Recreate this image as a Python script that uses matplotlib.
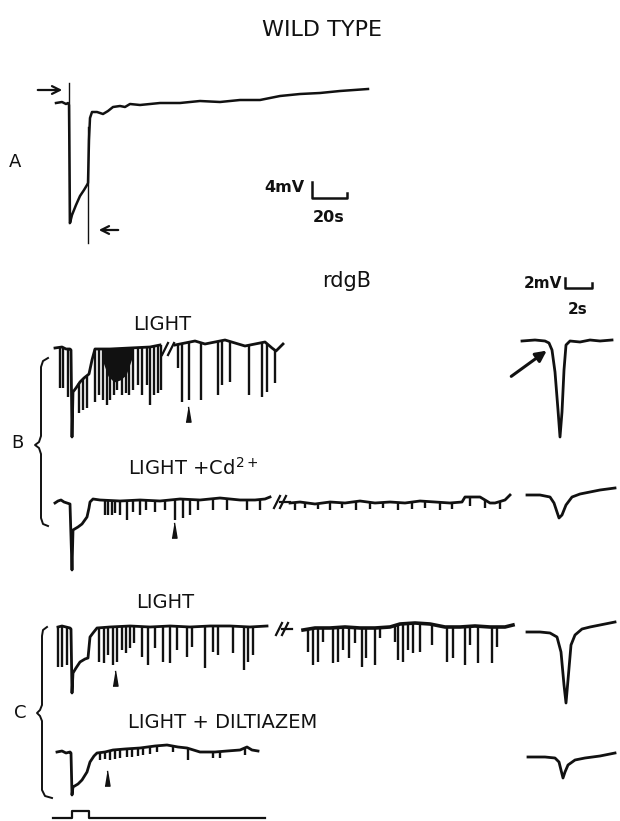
import numpy as np
import matplotlib
matplotlib.use("Agg")
import matplotlib.pyplot as plt

INK = "#111111"

# ---- panel A (wild type) trace, pixel coords of the original sheet ----
a_x = [56, 62, 66, 68, 69, 70, 72, 76, 80, 84, 87, 88, 89, 90, 92, 97, 103, 108, 113,
       120, 125, 130, 140, 150, 160, 180, 200, 220, 240, 260, 270, 280, 300, 320, 340, 368]
a_y = [103, 102, 104, 103, 105, 223, 215, 205, 196, 190, 185, 183, 140, 118, 112, 112, 114, 111, 107,
       106, 107, 104, 105, 104, 103, 103, 101, 102, 100, 100, 98, 96, 94, 93, 91, 89]

# ---- B: LIGHT ----
bl_x = [55, 62, 66, 70, 71, 72, 73, 76, 80, 84, 89, 92, 95, 110, 130, 150, 160]
bl_y = [348, 347, 349, 349, 350, 437, 392, 388, 382, 378, 374, 360, 349, 349, 348, 347, 345]
bl_spk_x = [60, 63, 68, 79, 83, 87, 95, 99, 103, 107, 110, 114, 117, 122, 126, 129,
            133, 138, 142, 147, 150, 154, 158, 161]
bl_spk_y = [388, 388, 397, 413, 410, 408, 402, 395, 400, 405, 400, 395, 390, 395, 393, 395,
            390, 385, 395, 385, 405, 395, 393, 390]
burst_x = [103, 108, 114, 120, 126, 132]
burst_lo = [362, 376, 382, 380, 375, 358]
br_x = [175, 185, 195, 205, 215, 225, 235, 245, 255, 265, 272, 276, 280, 283]
br_y = [345, 343, 341, 344, 342, 340, 343, 346, 344, 342, 348, 351, 347, 344]
br_spk_x = [178, 182, 189, 201, 218, 222, 230, 249, 262, 267, 275]
br_spk_y = [368, 402, 400, 400, 395, 385, 382, 395, 397, 392, 383]

# ---- B: LIGHT + Cd ----
cl_x = [55, 58, 61, 64, 67, 70, 72, 73, 78, 82, 87, 89, 90, 93, 100, 120, 140, 160,
        180, 200, 220, 240, 255, 265, 270]
cl_y = [503, 501, 500, 502, 503, 504, 570, 530, 527, 524, 517, 508, 502, 499, 500, 501, 500, 501,
        499, 500, 498, 500, 500, 499, 497]
cl_spk_x = [105, 108, 112, 115, 120, 127, 133, 140, 146, 155, 165, 175, 183, 190, 198,
            213, 227, 247, 260]
cl_spk_y = [515, 515, 515, 513, 515, 520, 512, 515, 510, 512, 510, 520, 518, 515, 510,
            510, 510, 510, 510]
cr_x = [290, 300, 315, 330, 345, 360, 375, 390, 405, 420, 435, 450, 462, 465, 480,
        490, 495, 505, 510]
cr_y = [503, 502, 504, 502, 503, 501, 503, 502, 503, 501, 502, 503, 502, 497, 497,
        503, 503, 500, 495]
cr_spk_x = [295, 305, 318, 330, 342, 356, 370, 383, 398, 412, 425, 440, 452, 470, 485, 500]
cr_spk_y = [510, 508, 509, 510, 508, 510, 509, 508, 510, 509, 508, 510, 509, 506, 508, 509]

# ---- C: LIGHT ----
dl_x = [58, 62, 66, 70, 71, 72, 73, 76, 80, 85, 88, 90, 93, 97, 110, 130, 150, 170,
        190, 210, 230, 250, 267]
dl_y = [627, 626, 627, 628, 629, 693, 673, 668, 662, 659, 658, 637, 633, 628, 627, 626, 627, 626,
        627, 626, 626, 627, 626]
dl_spk_x = [58, 62, 67, 99, 104, 108, 113, 117, 122, 126, 130, 134, 142, 148, 155, 163,
            170, 177, 187, 192, 205, 213, 218, 233, 244, 248, 253]
dl_spk_y = [667, 667, 665, 662, 663, 655, 665, 662, 650, 653, 648, 643, 657, 665, 648, 662,
            663, 650, 657, 647, 668, 652, 655, 653, 670, 662, 655]
dr_x = [303, 315, 330, 345, 360, 375, 390, 400, 415, 430, 445, 460, 475, 490, 505, 513]
dr_y = [630, 628, 628, 627, 628, 628, 627, 624, 623, 624, 627, 627, 626, 627, 627, 625]
dr_spk_x = [308, 313, 318, 323, 333, 338, 343, 349, 355, 362, 366, 375, 380, 395, 398,
            403, 408, 413, 420, 432, 447, 453, 465, 470, 478, 492, 497]
dr_spk_y = [652, 665, 662, 642, 663, 662, 650, 658, 643, 667, 658, 665, 638, 642, 660,
            662, 650, 653, 652, 645, 662, 658, 665, 645, 663, 663, 647]

# ---- C: LIGHT + DILTIAZEM ----
zl_x = [57, 62, 66, 70, 71, 72, 73, 78, 82, 87, 90, 94, 97, 105, 113, 125, 140, 155,
        167, 178, 187, 200, 215, 227, 240, 247, 252, 258]
zl_y = [752, 751, 753, 752, 753, 795, 787, 784, 780, 772, 762, 756, 753, 752, 750, 749, 748, 746,
        745, 747, 748, 752, 752, 751, 750, 747, 750, 751]
zl_spk_x = [100, 105, 110, 115, 120, 127, 132, 138, 143, 150, 157, 173, 188, 213, 220, 245]
zl_spk_y = [760, 759, 760, 759, 758, 757, 757, 756, 755, 754, 752, 752, 760, 758, 758, 755]

# ---- single-event insets ----
ib_x = [522, 535, 545, 549, 552, 555, 558, 560, 562, 564, 566, 570, 580, 590, 600, 612]
ib_y = [341, 340, 341, 343, 350, 372, 410, 437, 412, 370, 345, 341, 342, 340, 341, 340]
ic_x = [527, 540, 550, 554, 557, 559, 562, 566, 572, 580, 590, 600, 615]
ic_y = [495, 495, 497, 503, 512, 518, 515, 505, 497, 494, 492, 490, 488]
id_x = [527, 540, 550, 557, 561, 564, 566, 568, 571, 575, 582, 590, 600, 615]
id_y = [632, 632, 633, 637, 652, 685, 703, 680, 645, 635, 629, 627, 625, 622]
iz_x = [528, 545, 555, 559, 561, 563, 565, 568, 575, 585, 600, 615]
iz_y = [757, 757, 758, 762, 770, 778, 772, 765, 760, 758, 756, 753]

# light stimulus monitor
stim_x = [53, 72, 72, 89, 89, 265]
stim_y = [818, 818, 811, 811, 818, 818]

# arrowhead markers (event examples)
tri_x = [188, 174, 115, 107]
tri_y = [414, 530, 678, 778]


def trace(ax, xs, ys, spk_x=None, spk_y=None, lw=2.0):
    ax.plot(xs, ys, color=INK, lw=lw, solid_joinstyle="round")
    if spk_x is not None:
        base = np.interp(spk_x, xs, ys)
        ax.vlines(spk_x, base, spk_y, color=INK, lw=1.7)


def slashes(ax, x0, y0):
    for dx in (0, 6):
        ax.plot([x0 + dx, x0 + dx + 6], [y0 + 6, y0 - 6], color=INK, lw=1.6)


fig = plt.figure(figsize=(6.2, 8.21), dpi=100)
ax = fig.add_axes([0, 0, 1, 1])
ax.set_xlim(0, 620)
ax.set_ylim(821, 0)
ax.axis("off")

ax.text(322, 30, "WILD TYPE", fontsize=16, ha="center", va="center", color=INK)

# panel A
trace(ax, a_x, a_y, lw=1.8)
ax.plot([69, 69], [83, 223], color=INK, lw=1.0)
ax.plot([88, 88], [127, 243], color=INK, lw=1.0)
ax.annotate("", xy=(65, 90), xytext=(35, 90),
            arrowprops=dict(arrowstyle="->", lw=1.6, color=INK, mutation_scale=14))
ax.annotate("", xy=(96, 230), xytext=(121, 230),
            arrowprops=dict(arrowstyle="->", lw=1.6, color=INK, mutation_scale=14))
ax.text(15, 162, "A", fontsize=13, ha="center", va="center", color=INK)
ax.plot([312, 312, 347, 347], [182, 198, 198, 193], color=INK, lw=1.8)
ax.text(304, 188, "4mV", fontsize=11.5, ha="right", va="center", color=INK, fontweight="bold")
ax.text(329, 217, "20s", fontsize=11.5, ha="center", va="center", color=INK, fontweight="bold")

# panel B / C headings
ax.text(347, 281, "rdgB", fontsize=15, ha="center", va="center", color=INK)
ax.plot([565, 565, 592, 592], [278, 288, 288, 283], color=INK, lw=1.8)
ax.text(562, 283, "2mV", fontsize=11, ha="right", va="center", color=INK, fontweight="bold")
ax.text(578, 310, "2s", fontsize=11, ha="center", va="center", color=INK, fontweight="bold")

ax.text(162, 325, "LIGHT", fontsize=14, ha="center", va="center", color=INK)
ax.text(128, 468, r"LIGHT +Cd$^{2+}$", fontsize=14, ha="left", va="center", color=INK)
ax.text(165, 602, "LIGHT", fontsize=14, ha="center", va="center", color=INK)
ax.text(128, 723, "LIGHT + DILTIAZEM", fontsize=14, ha="left", va="center", color=INK)

# B traces
trace(ax, bl_x, bl_y, bl_spk_x, bl_spk_y)
ax.fill_between(burst_x, np.interp(burst_x, bl_x, bl_y), burst_lo, color=INK, lw=0)
slashes(ax, 162, 349)
trace(ax, br_x, br_y, br_spk_x, br_spk_y)
trace(ax, cl_x, cl_y, cl_spk_x, cl_spk_y)
slashes(ax, 274, 502)
ax.plot([280, 290], [502, 502], color=INK, lw=1.6)
trace(ax, cr_x, cr_y, cr_spk_x, cr_spk_y)

# C traces
trace(ax, dl_x, dl_y, dl_spk_x, dl_spk_y)
slashes(ax, 276, 629)
ax.plot([282, 292], [629, 629], color=INK, lw=1.6)
trace(ax, dr_x, dr_y, dr_spk_x, dr_spk_y, lw=2.6)
trace(ax, zl_x, zl_y, zl_spk_x, zl_spk_y)

# insets
for xs, ys in [(ib_x, ib_y), (ic_x, ic_y), (id_x, id_y), (iz_x, iz_y)]:
    trace(ax, xs, ys, lw=2.0)
ax.annotate("", xy=(549, 349), xytext=(509, 378),
            arrowprops=dict(arrowstyle="-|>", lw=2.2, color=INK, mutation_scale=16))

# event arrowheads
ax.plot(tri_x, tri_y, ls="none", color=INK,
        marker=[(-0.33, -1), (0.33, -1), (0, 1)], markersize=11)

# braces
ax.plot([48, 43, 41, 41, 39, 35, 39, 41, 41, 43, 48],
        [358, 361, 367, 436, 442, 445, 448, 454, 518, 524, 526], color=INK, lw=1.4)
ax.text(17, 443, "B", fontsize=13, ha="center", va="center", color=INK)
ax.plot([47, 43, 42, 42, 40, 37, 40, 42, 42, 45, 52],
        [627, 630, 636, 705, 710, 713, 716, 721, 790, 796, 798], color=INK, lw=1.4)
ax.text(20, 713, "C", fontsize=13, ha="center", va="center", color=INK)

# stimulus
ax.plot(stim_x, stim_y, color=INK, lw=1.6)

fig.savefig("out.png", dpi=100)
